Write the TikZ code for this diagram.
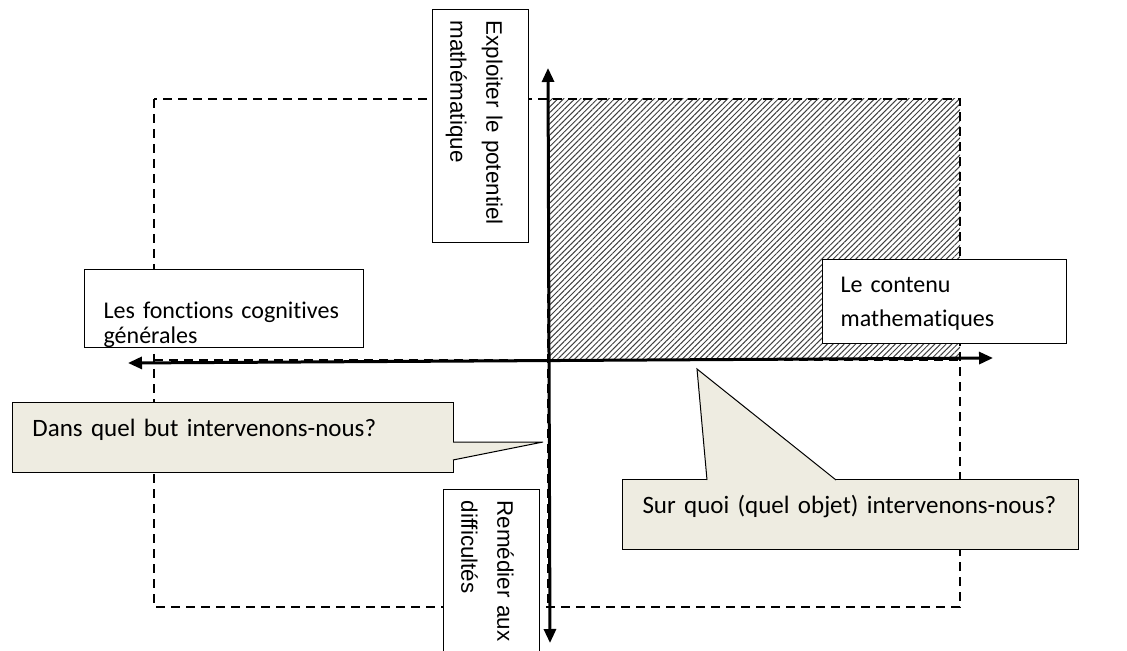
\documentclass[tikz,border=0pt]{standalone}
\usepackage{fontspec}
\setmainfont{Carlito}[Ligatures=NoCommon]
\newfontfamily\arialfont{Liberation Sans}
\usepackage{tikz}
\usetikzlibrary{arrows.meta, patterns.meta, calc}
\definecolor{callfill}{RGB}{238,236,225}

\begin{document}
\begin{tikzpicture}[x=0.5pt, y=-0.5pt,
  axis/.style={line width=1.5pt, <->, >={Triangle[length=7pt,width=6pt]}},
  dashline/.style={dash pattern=on 4.5pt off 3pt, line width=0.8pt},
  txtbox/.style={draw, fill=white, line width=0.6pt, anchor=north west, inner ysep=0pt, align=left},
  rotbox/.style={txtbox, rotate=-90, inner xsep=5.5pt, text width=105.5pt,
    text height=21pt, text depth=27pt, font=\arialfont\fontsize{11.2}{18}\selectfont},
  callbox/.style={txtbox, fill=callfill, line width=0.5pt, inner xsep=10pt,
    text height=17pt, text depth=18pt, font=\fontsize{12.5}{15}\selectfont},
  callline/.style={fill=callfill, draw=black, line width=0.5pt}]
\useasboundingbox (0,0) rectangle (1127,651);

% quadrants
\fill[pattern={Lines[angle=45,distance=2pt,line width=0.5pt]}, pattern color=black!75] (548,99) rectangle (960,360);
\draw[dashline] (154,99) rectangle (960,607);
\draw[dashline] (548,99) -- (548,607);
\draw[dashline] (154,360) -- (960,360);

% axes
\coordinate (x_l) at (128,363);
\coordinate (x_r) at (993,358);
\coordinate (y_t) at (548,68);
\coordinate (y_b) at (550,643);
\draw[axis] (x_l) -- (x_r);
\draw[axis] (y_t) -- (y_b);

% labels of the axes
\node[rotbox] (box_expl) at (529,9) {Exploiter le potentiel\\math\'ematique};
\node[rotbox] (box_rem) at (540,489) {Rem\'edier aux\\difficult\'es};
\node[txtbox, inner xsep=9.5pt, text width=120.5pt, text height=24.5pt, text depth=14.5pt,
  font=\fontsize{12}{12.5}\selectfont] (box_cog) at (84,269) {Les fonctions cognitives\\g\'en\'erales};
\node[txtbox, inner xsep=9pt, text width=104pt, text height=16.5pt, text depth=25.5pt,
  font=\fontsize{12}{17}\selectfont] (box_cont) at (822,259) {Le contenu\\mathematiques};

% callouts
\node[callbox, text width=200.5pt] (call_but) at (12,402) {Dans quel but intervenons-nous?};
\coordinate (tip_but) at (543,442);
\filldraw[callline] ($(call_but.north east)+(-1,40)$) -- (tip_but) -- ($(call_but.north east)+(-1,58)$);

\node[callbox, text width=208pt] (call_obj) at (622,479) {Sur quoi (quel objet) intervenons-nous?};
\coordinate (tip_obj) at (697,369);
\filldraw[callline] ($(call_obj.north west)+(85,1)$) -- (tip_obj) -- ($(call_obj.north west)+(214,1)$);

\end{tikzpicture}
\end{document}
